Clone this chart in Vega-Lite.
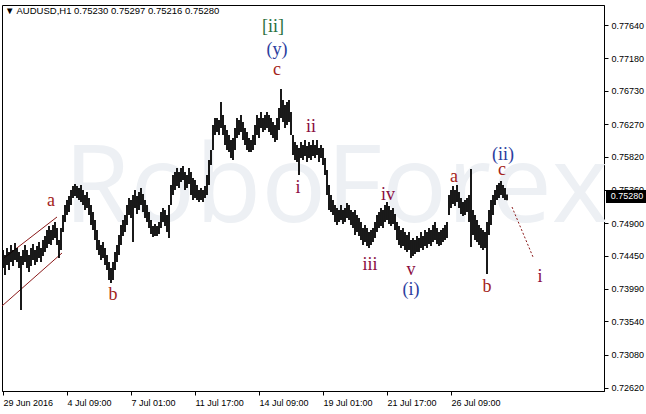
{
  "$schema": "https://vega.github.io/schema/vega-lite/v6.json",
  "width": 602,
  "height": 386,
  "autosize": {"type": "none"},
  "padding": {"left": 2, "top": 5, "right": 42, "bottom": 23},
  "background": "white",
  "config": {"view": {"stroke": "black", "strokeWidth": 1}},
  "datasets": {
    "bars": [
      {"t":3,"h":0.74528,"p":0.74279},{"t":5,"h":0.74459,"p":0.74183},{"t":7,"h":0.74556,"p":0.74321},{"t":9,"h":0.74501,"p":0.74252},{"t":11,"h":0.74597,"p":0.74362},{"t":13,"h":0.74528,"p":0.74307},{"t":15,"h":0.74625,"p":0.7439},{"t":17,"h":0.74556,"p":0.74362},{"t":19,"h":0.74501,"p":0.74279},{"t":21,"h":0.74445,"p":0.73699},
      {"t":23,"h":0.74528,"p":0.74321},{"t":25,"h":0.74597,"p":0.74362},{"t":27,"h":0.74528,"p":0.74279},{"t":29,"h":0.74459,"p":0.74224},{"t":31,"h":0.74556,"p":0.74307},{"t":33,"h":0.74611,"p":0.7439},{"t":35,"h":0.74528,"p":0.74321},{"t":37,"h":0.74584,"p":0.74362},{"t":39,"h":0.74639,"p":0.74418},{"t":41,"h":0.74556,"p":0.74362},
      {"t":43,"h":0.74667,"p":0.74445},{"t":45,"h":0.74722,"p":0.74501},{"t":47,"h":0.74805,"p":0.74556},{"t":49,"h":0.7486,"p":0.74611},{"t":51,"h":0.74805,"p":0.74597},{"t":53,"h":0.74874,"p":0.74667},{"t":55,"h":0.74916,"p":0.74694},{"t":57,"h":0.74833,"p":0.74597},{"t":59,"h":0.74667,"p":0.74418},{"t":61,"h":0.74833,"p":0.74528},
      {"t":63,"h":0.75012,"p":0.74777},{"t":65,"h":0.75151,"p":0.74916},{"t":67,"h":0.7522,"p":0.75012},{"t":69,"h":0.75275,"p":0.75054},{"t":71,"h":0.75358,"p":0.75151},{"t":73,"h":0.75413,"p":0.75248},{"t":75,"h":0.75441,"p":0.75275},{"t":77,"h":0.75413,"p":0.75248},{"t":79,"h":0.75386,"p":0.7522},{"t":81,"h":0.75427,"p":0.75192},
      {"t":83,"h":0.75358,"p":0.75151},{"t":85,"h":0.75289,"p":0.75082},{"t":87,"h":0.7533,"p":0.75109},{"t":89,"h":0.75248,"p":0.75012},{"t":91,"h":0.75151,"p":0.74874},{"t":93,"h":0.75054,"p":0.74805},{"t":95,"h":0.74943,"p":0.74667},{"t":97,"h":0.74805,"p":0.74528},{"t":99,"h":0.74667,"p":0.74459},{"t":101,"h":0.74597,"p":0.7439},
      {"t":103,"h":0.74639,"p":0.74418},{"t":105,"h":0.74556,"p":0.74321},{"t":107,"h":0.74459,"p":0.74252},{"t":109,"h":0.74362,"p":0.74113},{"t":111,"h":0.74279,"p":0.74072},{"t":113,"h":0.74362,"p":0.74113},{"t":115,"h":0.74501,"p":0.74252},{"t":117,"h":0.74597,"p":0.74362},{"t":119,"h":0.74736,"p":0.74459},{"t":121,"h":0.74874,"p":0.74597},
      {"t":123,"h":0.74943,"p":0.74722},{"t":125,"h":0.75012,"p":0.74777},{"t":127,"h":0.75151,"p":0.74874},{"t":129,"h":0.75248,"p":0.75012},{"t":131,"h":0.7522,"p":0.74971},{"t":133,"h":0.75289,"p":0.74639},{"t":135,"h":0.75358,"p":0.75109},{"t":137,"h":0.75275,"p":0.75026},{"t":139,"h":0.7533,"p":0.75082},{"t":141,"h":0.75386,"p":0.75151},
      {"t":143,"h":0.75303,"p":0.75054},{"t":145,"h":0.7522,"p":0.74971},{"t":147,"h":0.75151,"p":0.74916},{"t":149,"h":0.75054,"p":0.74833},{"t":151,"h":0.74943,"p":0.7475},{"t":153,"h":0.7486,"p":0.74708},{"t":155,"h":0.74888,"p":0.74722},{"t":157,"h":0.7486,"p":0.74722},{"t":159,"h":0.74916,"p":0.7475},{"t":161,"h":0.75054,"p":0.74833},
      {"t":163,"h":0.75109,"p":0.74916},{"t":165,"h":0.75082,"p":0.7486},{"t":167,"h":0.75012,"p":0.74777},{"t":169,"h":0.75151,"p":0.74694},{"t":171,"h":0.75427,"p":0.75151},{"t":173,"h":0.75566,"p":0.75289},{"t":175,"h":0.75607,"p":0.75358},{"t":177,"h":0.75662,"p":0.75413},{"t":179,"h":0.75607,"p":0.75386},{"t":181,"h":0.75662,"p":0.75469},
      {"t":183,"h":0.7569,"p":0.75496},{"t":185,"h":0.75607,"p":0.75358},{"t":187,"h":0.75566,"p":0.75386},{"t":189,"h":0.75662,"p":0.75441},{"t":191,"h":0.75607,"p":0.75289},{"t":193,"h":0.75524,"p":0.7522},{"t":195,"h":0.75496,"p":0.75248},{"t":197,"h":0.75427,"p":0.7522},{"t":199,"h":0.75358,"p":0.75192},{"t":201,"h":0.75386,"p":0.7522},
      {"t":203,"h":0.75358,"p":0.75192},{"t":205,"h":0.75413,"p":0.75248},{"t":207,"h":0.75566,"p":0.75289},{"t":209,"h":0.75773,"p":0.75427},{"t":211,"h":0.75911,"p":0.75704},{"t":213,"h":0.76257,"p":0.75911},{"t":215,"h":0.76354,"p":0.76119},{"t":217,"h":0.76354,"p":0.7616},{"t":219,"h":0.76326,"p":0.76119},{"t":221,"h":0.76575,"p":0.76216},
      {"t":223,"h":0.76395,"p":0.76119},{"t":225,"h":0.76257,"p":0.7598},{"t":227,"h":0.76188,"p":0.75911},{"t":229,"h":0.76119,"p":0.75884},{"t":231,"h":0.7605,"p":0.75801},{"t":233,"h":0.76077,"p":0.75773},{"t":235,"h":0.76216,"p":0.75911},{"t":237,"h":0.76354,"p":0.76077},{"t":239,"h":0.76326,"p":0.76119},{"t":241,"h":0.76395,"p":0.7616},
      {"t":243,"h":0.76299,"p":0.7605},{"t":245,"h":0.76216,"p":0.7598},{"t":247,"h":0.7616,"p":0.75911},{"t":249,"h":0.76077,"p":0.75884},{"t":251,"h":0.7605,"p":0.75884},{"t":253,"h":0.76119,"p":0.75911},{"t":255,"h":0.76257,"p":0.7598},{"t":257,"h":0.76395,"p":0.76119},{"t":259,"h":0.76354,"p":0.76077},{"t":261,"h":0.76437,"p":0.76216},
      {"t":263,"h":0.76354,"p":0.7616},{"t":265,"h":0.76395,"p":0.76188},{"t":267,"h":0.76437,"p":0.76216},{"t":269,"h":0.76395,"p":0.7616},{"t":271,"h":0.76354,"p":0.76119},{"t":273,"h":0.76299,"p":0.76077},{"t":275,"h":0.76257,"p":0.76022},{"t":277,"h":0.76354,"p":0.7605},{"t":279,"h":0.76492,"p":0.76188},{"t":281,"h":0.76755,"p":0.76354},
      {"t":283,"h":0.76603,"p":0.76299},{"t":285,"h":0.76534,"p":0.76216},{"t":287,"h":0.76575,"p":0.76257},{"t":289,"h":0.76603,"p":0.76299},{"t":291,"h":0.76437,"p":0.76119},{"t":293,"h":0.76119,"p":0.75842},{"t":295,"h":0.76022,"p":0.75773},{"t":297,"h":0.7598,"p":0.75745},{"t":299,"h":0.75939,"p":0.75566},{"t":301,"h":0.76022,"p":0.75801},
      {"t":303,"h":0.7598,"p":0.75773},{"t":305,"h":0.7605,"p":0.75828},{"t":307,"h":0.75967,"p":0.75745},{"t":309,"h":0.76022,"p":0.75801},{"t":311,"h":0.7598,"p":0.75773},{"t":313,"h":0.7605,"p":0.75828},{"t":315,"h":0.7598,"p":0.75801},{"t":317,"h":0.7605,"p":0.75842},{"t":319,"h":0.75939,"p":0.75745},{"t":321,"h":0.7598,"p":0.75801},
      {"t":323,"h":0.75939,"p":0.75704},{"t":325,"h":0.75801,"p":0.75566},{"t":327,"h":0.75635,"p":0.75289},{"t":329,"h":0.75427,"p":0.75082},{"t":331,"h":0.75289,"p":0.75054},{"t":333,"h":0.7522,"p":0.75012},{"t":335,"h":0.75151,"p":0.74916},{"t":337,"h":0.75109,"p":0.74874},{"t":339,"h":0.75082,"p":0.74916},{"t":341,"h":0.75151,"p":0.74943},
      {"t":343,"h":0.75082,"p":0.74888},{"t":345,"h":0.75109,"p":0.74916},{"t":347,"h":0.75178,"p":0.74971},{"t":349,"h":0.75151,"p":0.74943},{"t":351,"h":0.75082,"p":0.74874},{"t":353,"h":0.75054,"p":0.74833},{"t":355,"h":0.75082,"p":0.74736},{"t":357,"h":0.75012,"p":0.74777},{"t":359,"h":0.74971,"p":0.74722},{"t":361,"h":0.74916,"p":0.74667},
      {"t":363,"h":0.74833,"p":0.74597},{"t":365,"h":0.74874,"p":0.74639},{"t":367,"h":0.74833,"p":0.74584},{"t":369,"h":0.74777,"p":0.74556},{"t":371,"h":0.74805,"p":0.74597},{"t":373,"h":0.74833,"p":0.74639},{"t":375,"h":0.74916,"p":0.74694},{"t":377,"h":0.75012,"p":0.74777},{"t":379,"h":0.75054,"p":0.74833},{"t":381,"h":0.75109,"p":0.7486},
      {"t":383,"h":0.75082,"p":0.74833},{"t":385,"h":0.75151,"p":0.74916},{"t":387,"h":0.75192,"p":0.74943},{"t":389,"h":0.75137,"p":0.74888},{"t":391,"h":0.75082,"p":0.7486},{"t":393,"h":0.75109,"p":0.74888},{"t":395,"h":0.75026,"p":0.74805},{"t":397,"h":0.74916,"p":0.74667},{"t":399,"h":0.7486,"p":0.74597},{"t":401,"h":0.74805,"p":0.74556},
      {"t":403,"h":0.74833,"p":0.74584},{"t":405,"h":0.74777,"p":0.74528},{"t":407,"h":0.74736,"p":0.74501},{"t":409,"h":0.74777,"p":0.74528},{"t":411,"h":0.74667,"p":0.74418},{"t":413,"h":0.74694,"p":0.74445},{"t":415,"h":0.74667,"p":0.74473},{"t":417,"h":0.74722,"p":0.74501},{"t":419,"h":0.74694,"p":0.74501},{"t":421,"h":0.74777,"p":0.74556},
      {"t":423,"h":0.74722,"p":0.74528},{"t":425,"h":0.74805,"p":0.74584},{"t":427,"h":0.74777,"p":0.74556},{"t":429,"h":0.74833,"p":0.74611},{"t":431,"h":0.74805,"p":0.74584},{"t":433,"h":0.74874,"p":0.74639},{"t":435,"h":0.74916,"p":0.74667},{"t":437,"h":0.74833,"p":0.74611},{"t":439,"h":0.74777,"p":0.74584},{"t":441,"h":0.74805,"p":0.74597},
      {"t":443,"h":0.74833,"p":0.74639},{"t":445,"h":0.74874,"p":0.74667},{"t":447,"h":0.74916,"p":0.74694},{"t":449,"h":0.75289,"p":0.75012},{"t":451,"h":0.75358,"p":0.75109},{"t":453,"h":0.75413,"p":0.75165},{"t":455,"h":0.75358,"p":0.75137},{"t":457,"h":0.75427,"p":0.75192},{"t":459,"h":0.7533,"p":0.75109},{"t":461,"h":0.75248,"p":0.75026},
      {"t":463,"h":0.75192,"p":0.74999},{"t":465,"h":0.7522,"p":0.75012},{"t":467,"h":0.75248,"p":0.75054},{"t":469,"h":0.75289,"p":0.74916},{"t":471,"h":0.75649,"p":0.7457},{"t":473,"h":0.75082,"p":0.74736},{"t":475,"h":0.75012,"p":0.74667},{"t":477,"h":0.74943,"p":0.74639},{"t":479,"h":0.74874,"p":0.74597},{"t":481,"h":0.74833,"p":0.74556},
      {"t":483,"h":0.74805,"p":0.74528},{"t":485,"h":0.74777,"p":0.74556},{"t":487,"h":0.74916,"p":0.74196},{"t":489,"h":0.75082,"p":0.74736},{"t":491,"h":0.7522,"p":0.74874},{"t":493,"h":0.75289,"p":0.75012},{"t":495,"h":0.75358,"p":0.75151},{"t":497,"h":0.75427,"p":0.7522},{"t":499,"h":0.75455,"p":0.75248},{"t":501,"h":0.75483,"p":0.75289},
      {"t":503,"h":0.75427,"p":0.75248},{"t":505,"h":0.75386,"p":0.7522},{"t":507,"h":0.75297,"p":0.75216}
    ],
    "labels": [
      {"t":273,"p":0.77612,"text":"[ii]","k":"g"},
      {"t":277,"p":0.77294,"text":"(y)","k":"b"},
      {"t":277,"p":0.77018,"text":"c","k":"r"},
      {"t":311,"p":0.76229,"text":"ii","k":"m"},
      {"t":298,"p":0.75386,"text":"i","k":"m"},
      {"t":51,"p":0.75206,"text":"a","k":"r"},
      {"t":113,"p":0.73906,"text":"b","k":"r"},
      {"t":370,"p":0.74321,"text":"iii","k":"m"},
      {"t":388,"p":0.75289,"text":"iv","k":"m"},
      {"t":411,"p":0.74252,"text":"v","k":"m"},
      {"t":411,"p":0.73975,"text":"(i)","k":"b"},
      {"t":454,"p":0.75538,"text":"a","k":"r"},
      {"t":487,"p":0.74017,"text":"b","k":"r"},
      {"t":502,"p":0.75635,"text":"c","k":"r"},
      {"t":503,"p":0.75842,"text":"(ii)","k":"b"},
      {"t":540,"p":0.74155,"text":"i","k":"m"}
    ],
    "channel": [
      {"t":4,"p":0.74418,"t2":57,"p2":0.74985},
      {"t":2,"p":0.73754,"t2":62,"p2":0.74487}
    ],
    "proj": [
      {"t":512,"p":0.75123,"t2":533,"p2":0.74432}
    ],
    "lastbox": [
      {"t":606,"t2":648,"p":0.75178,"p2":0.75358}
    ],
    "lastlabel": [
      {"t":627,"p":0.7528,"text":"0.75280"}
    ],
    "header": [
      {"t":5,"p":0.77834,"text":"▼ AUDUSD,H1  0.75230 0.75297 0.75216 0.75280"}
    ],
    "mark": [
      {"t":336,"p":0.74916,"text":"RoboForex"}
    ]
  },
  "encoding": {
    "x": {"field": "t", "type": "quantitative", "scale": {"domain": [2, 604], "nice": false, "zero": false},
      "axis": {"values": [3, 67, 131, 195, 259, 323, 387, 451], "title": null, "grid": false, "domainColor": "black", "tickColor": "black", "tickSize": 4, "labelColor": "black", "labelFont": "Liberation Sans", "labelFontSize": 9, "labelAlign": "left", "labelPadding": 3, "labelFlush": false, "labelOverlap": false,
        "labelExpr": "datum.value == 3 ? '29 Jun 2016' : datum.value == 67 ? '4 Jul 09:00' : datum.value == 131 ? '7 Jul 01:00' : datum.value == 195 ? '11 Jul 17:00' : datum.value == 259 ? '14 Jul 09:00' : datum.value == 323 ? '19 Jul 01:00' : datum.value == 387 ? '21 Jul 17:00' : '26 Jul 09:00'"}},
    "y": {"field": "p", "type": "quantitative", "scale": {"domain": [0.725785, 0.779166], "nice": false, "zero": false},
      "axis": {"orient": "right", "values": [0.7764, 0.7718, 0.7673, 0.7627, 0.7582, 0.7536, 0.749, 0.7445, 0.7399, 0.7354, 0.7308, 0.7262], "format": ".5f", "title": null, "grid": false, "domainColor": "black", "tickColor": "black", "tickSize": 4, "labelColor": "black", "labelFont": "Liberation Sans", "labelFontSize": 9, "labelPadding": 3, "labelFlush": false, "labelOverlap": false, "labelBound": false}}
  },
  "layer": [
    {
      "data": {"name": "mark"},
      "mark": {"type": "text", "font": "Open Sans", "fontSize": 108, "color": "#edf0f4", "align": "center", "baseline": "alphabetic"},
      "encoding": {"text": {"field": "text"}}
    },
    {
      "data": {"name": "channel"},
      "mark": {"type": "rule", "color": "#8b1a1a", "strokeWidth": 1},
      "encoding": {"x2": {"field": "t2"}, "y2": {"field": "p2"}}
    },
    {
      "data": {"name": "bars"},
      "mark": {"type": "rule", "color": "black", "strokeWidth": 1.8},
      "encoding": {"y2": {"field": "h"}}
    },
    {
      "data": {"name": "proj"},
      "mark": {"type": "rule", "color": "#8b1a1a", "strokeWidth": 1, "strokeDash": [2, 2]},
      "encoding": {"x2": {"field": "t2"}, "y2": {"field": "p2"}}
    },
    {
      "data": {"name": "labels"},
      "mark": {"type": "text", "font": "Liberation Serif", "fontSize": 18, "align": "center", "baseline": "middle"},
      "encoding": {
        "text": {"field": "text"},
        "color": {"field": "k", "type": "nominal", "legend": null,
          "scale": {"domain": ["g", "b", "r", "m"], "range": ["#2a7040", "#2b3d9e", "#a3231a", "#8b0d3f"]}}
      }
    },
    {
      "data": {"name": "header"},
      "mark": {"type": "text", "font": "Liberation Sans", "fontSize": 9.5, "align": "left", "baseline": "middle", "color": "black"},
      "encoding": {"text": {"field": "text"}}
    },
    {
      "data": {"name": "lastbox"},
      "mark": {"type": "rect", "color": "black"},
      "encoding": {"x2": {"field": "t2"}, "y2": {"field": "p2"}}
    },
    {
      "data": {"name": "lastlabel"},
      "mark": {"type": "text", "font": "Liberation Sans", "fontSize": 9, "align": "center", "baseline": "middle", "color": "white"},
      "encoding": {"text": {"field": "text"}}
    }
  ]
}
